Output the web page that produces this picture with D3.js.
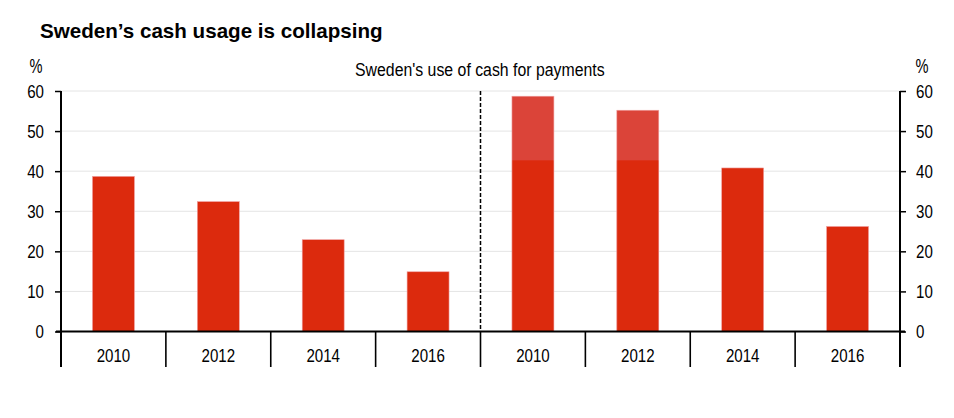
<!DOCTYPE html>
<html><head><meta charset="utf-8">
<script src="https://cdn.jsdelivr.net/npm/d3@7"></script>
<style>
body{margin:0;background:#fff;}
svg text{font-family:"Liberation Sans",Arial,sans-serif;fill:#000;}
</style></head><body>
<svg id="c" width="954" height="418"></svg>
<script>
const categories = ["2010","2012","2014","2016","2010","2012","2014","2016"];
const baseValues = [38.7, 32.4, 22.9, 14.9, 42.7, 42.7, 40.8, 26.2];
const extraValues = [0, 0, 0, 0, 16.0, 12.5, 0, 0];
const yTicks = [0,10,20,30,40,50,60];
const title = "Sweden\u2019s cash usage is collapsing";
const subtitle = "Sweden's use of cash for payments";

const svg = d3.select("#c");
const L = 61, R = 900, T = 91, B = 331.5, bottomExt = 367;
const SX = 0.84;
const x = d3.scaleBand().domain(d3.range(categories.length)).range([L, R]).paddingInner(0).paddingOuter(0);
const y = d3.scaleLinear().domain([0,60]).range([B, T]);

function ctext(px, py, txt, size, anchor, sx){
  return svg.append("g").attr("transform",`translate(${px},${py}) scale(${sx},1)`)
    .append("text").attr("text-anchor",anchor).style("font-size",size+"px").text(txt);
}

svg.append("text").attr("x",40).attr("y",38).text(title)
  .style("font-weight","bold").style("font-size","20.6px");
ctext(36, 73, "%", 19.5, "middle", 0.75);
ctext(922, 73, "%", 19.5, "middle", 0.75);
ctext(355, 76, subtitle, 18.5, "start", 0.857);

// gridlines
svg.append("g").selectAll("line").data(yTicks.filter(d=>d>0)).join("line")
  .attr("x1",L).attr("x2",R).attr("y1",d=>y(d)).attr("y2",d=>y(d))
  .attr("stroke","#e4e4e4").attr("stroke-width",1);

// bars
const bw = x.bandwidth()*0.4;
const bx = i => x(i)+x.bandwidth()/2-bw/2;
const data = baseValues.map((b,i)=>({i, b, e: extraValues[i]}));
const g = svg.append("g");
g.selectAll("rect.extra").data(data.filter(d=>d.e>0)).join("rect").attr("class","extra")
  .attr("x",d=>bx(d.i)).attr("width",bw)
  .attr("y",d=>y(d.b+d.e)).attr("height",d=>y(0)-y(d.b+d.e))
  .attr("fill","#db4439");
g.selectAll("rect.base").data(data).join("rect").attr("class","base")
  .attr("x",d=>bx(d.i)).attr("width",bw)
  .attr("y",d=>y(d.b)).attr("height",d=>y(0)-y(d.b))
  .attr("fill","#dc2a0d");
g.selectAll("rect.outline").data(data).join("rect").attr("class","outline")
  .attr("x",d=>bx(d.i)).attr("width",bw)
  .attr("y",d=>y(d.b+d.e)).attr("height",d=>y(0)-y(d.b+d.e))
  .attr("fill","none").attr("stroke","#f0a0a0").attr("stroke-width",0.6);

// dashed divider
svg.append("line").attr("x1",x(4)).attr("x2",x(4)).attr("y1",T).attr("y2",B)
  .attr("stroke","#000").attr("stroke-width",1.5).attr("stroke-dasharray","4,2");

// y axes
const yl = svg.append("g").attr("transform",`translate(${L},0)`)
  .call(d3.axisLeft(y).tickValues(yTicks).tickSize(6).tickPadding(11));
const yr = svg.append("g").attr("transform",`translate(${R},0)`)
  .call(d3.axisRight(y).tickValues(yTicks).tickSize(6).tickPadding(10));
[[yl,-17],[yr,16]].forEach(([a,off])=>{
  a.select(".domain").remove();
  a.selectAll(".tick line").attr("stroke","#000").attr("stroke-width",1.5);
  a.selectAll(".tick text").style("font-size","18px")
    .attr("x",off/SX).attr("transform",`scale(${SX},1)`).attr("dy","0.36em");
});
[L,R].forEach(px=>svg.append("line").attr("x1",px).attr("x2",px).attr("y1",T).attr("y2",bottomExt).attr("stroke","#000").attr("stroke-width",2));

// bottom axis
svg.append("line").attr("x1",L-5).attr("x2",R+5).attr("y1",B).attr("y2",B).attr("stroke","#000").attr("stroke-width",2);
svg.append("g").selectAll("line").data(d3.range(1,categories.length)).join("line")
  .attr("x1",i=>x(i)).attr("x2",i=>x(i)).attr("y1",B).attr("y2",bottomExt)
  .attr("stroke","#000").attr("stroke-width",1.6);
categories.forEach((c,i)=>ctext(x(i)+x.bandwidth()/2, 362, c, 18, "middle", SX));
</script></body></html>
